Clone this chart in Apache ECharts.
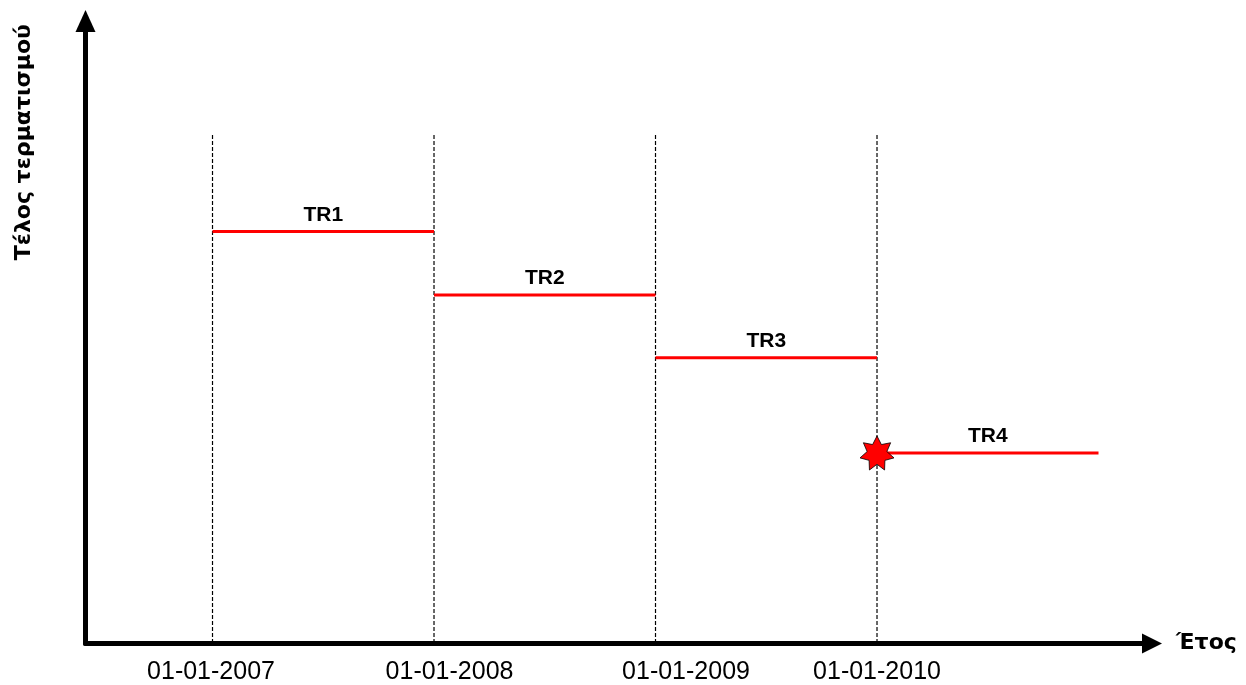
<!DOCTYPE html>
<html>
<head>
<meta charset="utf-8">
<script src="https://cdn.jsdelivr.net/npm/echarts@6/dist/echarts.min.js"></script>
<style>html,body{margin:0;padding:0;background:#fff;}#c{width:1246px;height:685px;}</style>
</head>
<body>
<div id="c"></div>
<script>
// ---- data ----
var periodNames = ['TR1', 'TR2', 'TR3', 'TR4'];
var periodStart = [2007, 2008, 2009, 2010];
var periodEnd   = [2008, 2009, 2010, 2011];
var periodFee   = [66.2, 56.0, 45.9, 30.6];
var boundaryYears = [2007, 2008, 2009, 2010];
var boundaryTop = 81.7;
var tickLabels = ['01-01-2007', '01-01-2008', '01-01-2009', '01-01-2010'];
var starPoint = [2010, 30.6];
var yTitle = 'Τέλος τερματισμού';
var xTitle = 'Έτος';

// ---- star symbol path (7 points) ----
function starPath(n, inner) {
  var d = '';
  for (var i = 0; i < 2 * n; i++) {
    var a = -Math.PI / 2 + i * Math.PI / n;
    var r = (i % 2 === 0) ? 50 : 50 * inner;
    var x = (50 + r * Math.cos(a)).toFixed(2);
    var y = (50 + r * Math.sin(a)).toFixed(2);
    d += (i === 0 ? 'M' : 'L') + x + ' ' + y + ' ';
  }
  return 'path://' + d + 'Z';
}

var series = [];
boundaryYears.forEach(function (yr) {
  series.push({
    type: 'line', symbol: 'none', silent: true, z: 1,
    data: [[yr, boundaryTop], [yr, 0]],
    lineStyle: { color: '#000', width: 1.2, type: [4, 2] }
  });
});
periodNames.forEach(function (nm, i) {
  series.push({
    type: 'line', symbol: 'none', silent: true, z: 2,
    data: [[periodStart[i], periodFee[i]], [periodEnd[i], periodFee[i]]],
    lineStyle: { color: '#ff0000', width: 3 }
  });
});
series.push({
  type: 'scatter', symbolSize: 0, silent: true, z: 3,
  itemStyle: { opacity: 1 },
  data: periodNames.map(function (nm, i) {
    return { name: nm, value: [(periodStart[i] + periodEnd[i]) / 2, periodFee[i]] };
  }),
  label: {
    show: true, position: 'top', distance: 6,
    formatter: function (p) { return p.name; },
    fontFamily: 'Liberation Sans', fontWeight: 'bold', fontSize: 21, color: '#000', opacity: 1
  }
});
series.push({
  type: 'scatter', z: 5, silent: true,
  symbol: starPath(7, 0.58), symbolSize: 34,
  itemStyle: { color: '#ff0000', borderColor: '#000', borderWidth: 0.8, opacity: 1 },
  data: [starPoint]
});

var chart = echarts.init(document.getElementById('c'), null, { renderer: 'canvas' });
chart.setOption({
  animation: false,
  backgroundColor: '#fff',
  grid: { left: 85.5, right: 94, top: 21, bottom: 41.5, containLabel: false },
  xAxis: {
    type: 'value', min: 2006.4266, max: 2011.2415,
    name: xTitle, nameLocation: 'end', nameGap: 24,
    nameTextStyle: { fontFamily: 'DejaVu Sans', fontWeight: 'bold', fontSize: 22, color: '#000', verticalAlign: 'middle' },
    axisLine: { show: true, symbol: ['none', 'triangle'], symbolSize: [20, 20], lineStyle: { color: '#000', width: 5 } },
    axisTick: { show: false },
    splitLine: { show: false },
    axisLabel: {
      customValues: boundaryYears,
      margin: 16,
      formatter: function (v) {
        var i = boundaryYears.indexOf(v);
        return '{s' + i + '|' + tickLabels[i] + '}';
      },
      rich: {
        s0: { fontFamily: 'Liberation Sans', fontSize: 25, color: '#000', padding: [0, 3, 0, 0] },
        s1: { fontFamily: 'Liberation Sans', fontSize: 25, color: '#000', padding: [0, 0, 0, 31] },
        s2: { fontFamily: 'Liberation Sans', fontSize: 25, color: '#000', padding: [0, 0, 0, 61] },
        s3: { fontFamily: 'Liberation Sans', fontSize: 25, color: '#000' }
      }
    }
  },
  yAxis: {
    type: 'value', min: 0, max: 100,
    name: yTitle, nameLocation: 'middle', nameGap: 50, nameRotate: 90,
    nameTextStyle: { fontFamily: 'DejaVu Sans', fontWeight: 'bold', fontSize: 22, color: '#000', padding: [0, 0, 0, 380] },
    axisLine: { show: true, symbol: ['none', 'triangle'], symbolSize: [20, 22], lineStyle: { color: '#000', width: 5 } },
    axisTick: { show: false },
    axisLabel: { show: false },
    splitLine: { show: false }
  },
  series: series
});
</script>
</body>
</html>
